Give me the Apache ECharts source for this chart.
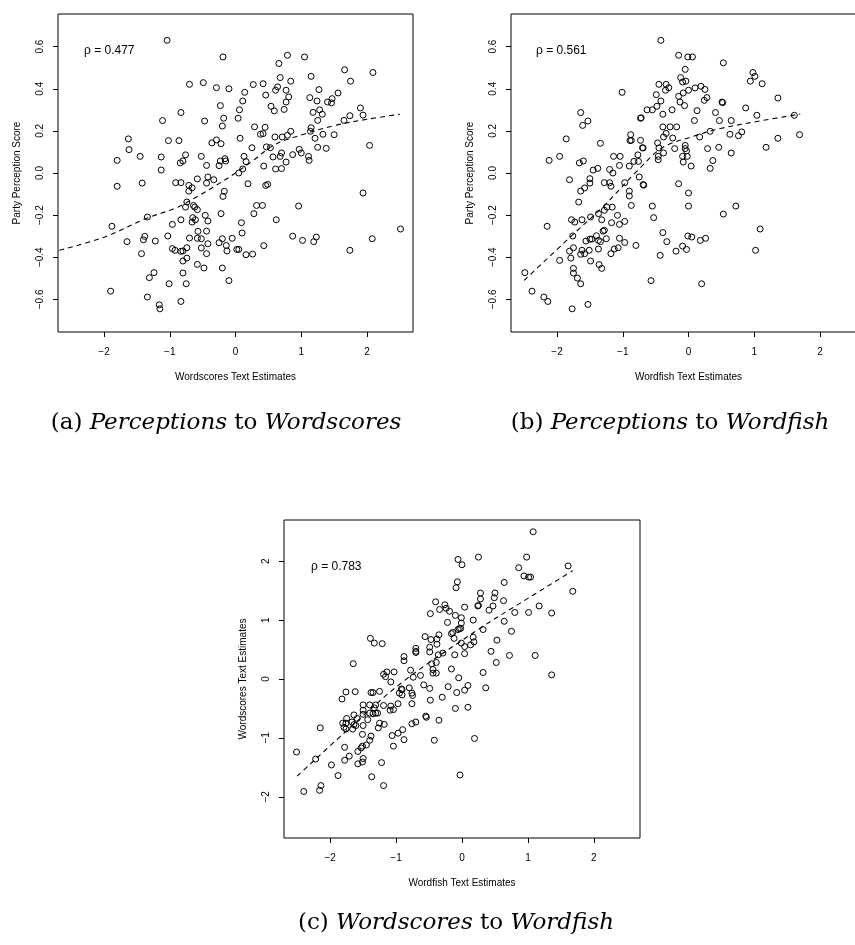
<!DOCTYPE html>
<html>
<head>
<meta charset="utf-8">
<script src="https://cdn.jsdelivr.net/npm/echarts@6/dist/echarts.min.js"></script>
<style>
  html, body { margin: 0; padding: 0; background: #fff; }
  #chart { width: 855px; height: 945px; }
</style>
</head>
<body>
<div id="chart"></div>
<script>
// Party perception score vs. Wordscores text estimate, one [x, y] per party
const perceptionVsWordscores = [
  [-1.04,0.63],[-0.19,0.551],[0.79,0.559],[1.05,0.551],[0.66,0.52],[1.66,0.49],[2.09,0.477],[1.15,0.459],[0.68,0.453],[0.84,0.436],
  [1.75,0.436],[-0.70,0.421],[-0.49,0.429],[-0.29,0.405],[-0.10,0.40],[0.27,0.42],[0.42,0.424],[0.64,0.409],[0.14,0.383],[0.46,0.37],
  [0.61,0.393],[0.77,0.393],[1.27,0.396],[0.81,0.361],[1.13,0.358],[1.24,0.342],[1.40,0.337],[1.47,0.353],[1.56,0.38],[1.46,0.333],
  [0.77,0.337],[0.11,0.342],[0.06,0.30],[-0.23,0.32],[-0.83,0.287],[0.54,0.317],[0.59,0.295],[0.74,0.302],[1.18,0.288],[1.28,0.30],
  [1.32,0.279],[1.90,0.309],[1.94,0.275],[1.74,0.272],[1.65,0.25],[-1.11,0.249],[-0.47,0.247],[-0.18,0.26],[0.04,0.26],[1.25,0.25],
  [0.29,0.219],[0.45,0.217],[0.38,0.184],[0.42,0.187],[0.84,0.198],[1.15,0.215],[1.14,0.198],[1.21,0.165],[1.33,0.184],[1.50,0.182],
  [0.79,0.179],[0.60,0.171],[0.71,0.171],[-0.20,0.223],[-1.63,0.162],[-1.02,0.154],[-0.86,0.154],[-0.29,0.157],[-0.22,0.139],[-0.36,0.143],
  [0.07,0.165],[-1.62,0.111],[-1.45,0.079],[-1.80,0.06],[-1.13,0.076],[-0.76,0.086],[-0.80,0.057],[-0.84,0.048],[-0.52,0.079],[-0.44,0.036],
  [-0.23,0.057],[-0.16,0.068],[-0.15,0.057],[-0.25,0.035],[-1.13,0.014],[0.25,0.12],[0.47,0.124],[0.53,0.12],[0.13,0.079],[0.16,0.054],
  [0.43,0.033],[0.57,0.076],[0.68,0.079],[0.77,0.052],[0.70,0.095],[0.87,0.087],[0.97,0.112],[1.00,0.095],[1.11,0.079],[1.12,0.06],
  [1.25,0.122],[1.38,0.117],[2.04,0.131],[0.61,0.019],[0.70,0.021],[0.11,0.019],[0.05,0.0],[-0.58,-0.028],[-0.42,-0.019],[-0.33,-0.032],
  [-1.80,-0.063],[-1.42,-0.048],[-0.91,-0.046],[-0.83,-0.046],[-0.71,-0.059],[-0.66,-0.07],[-0.71,-0.086],[-0.44,-0.048],[0.19,-0.051],[0.46,-0.059],
  [0.49,-0.054],[-0.17,-0.087],[-0.19,-0.111],[-0.74,-0.138],[-0.76,-0.162],[-0.64,-0.154],[-0.62,-0.162],[-0.58,-0.174],[0.32,-0.154],[0.41,-0.154],
  [0.96,-0.157],[1.94,-0.095],[-1.88,-0.253],[-1.34,-0.209],[-0.96,-0.244],[-0.83,-0.222],[-0.65,-0.212],[-0.61,-0.222],[-0.66,-0.233],[-0.46,-0.201],
  [-0.42,-0.228],[-0.22,-0.193],[0.28,-0.193],[0.09,-0.236],[0.62,-0.222],[-1.65,-0.326],[-1.40,-0.317],[-1.38,-0.301],[-1.22,-0.323],[-1.03,-0.299],
  [-0.70,-0.309],[-0.58,-0.31],[-0.52,-0.312],[-0.57,-0.277],[-0.44,-0.276],[-0.42,-0.336],[-0.52,-0.356],[-0.25,-0.331],[-0.20,-0.312],[-0.14,-0.344],
  [-0.05,-0.31],[-0.13,-0.37],[0.02,-0.363],[0.05,-0.363],[0.10,-0.285],[0.16,-0.388],[0.26,-0.385],[0.43,-0.345],[0.87,-0.30],[1.02,-0.32],
  [1.19,-0.326],[1.23,-0.304],[1.74,-0.367],[2.08,-0.312],[2.51,-0.266],[-0.96,-0.359],[-0.92,-0.367],[-0.83,-0.372],[-0.80,-0.37],[-0.74,-0.355],
  [-1.43,-0.383],[-0.80,-0.418],[-0.74,-0.404],[-0.58,-0.434],[-0.44,-0.383],[-0.48,-0.451],[-0.20,-0.451],[-1.24,-0.473],[-1.31,-0.497],[-0.80,-0.475],
  [-1.01,-0.526],[-0.75,-0.526],[-0.10,-0.511],[-1.90,-0.561],[-1.34,-0.589],[-0.83,-0.61],[-1.16,-0.626],[-1.15,-0.645]
];

// Party perception score vs. Wordfish text estimate
const perceptionVsWordfish = [
  [-0.42,0.63],[-0.15,0.559],[-0.01,0.551],[0.06,0.551],[0.53,0.523],[-0.05,0.492],[0.98,0.477],[1.01,0.459],[0.94,0.436],[1.12,0.424],
  [-0.12,0.453],[-0.09,0.432],[-0.04,0.436],[-0.45,0.421],[-0.34,0.421],[-0.30,0.405],[-0.35,0.393],[-1.01,0.383],[-0.49,0.372],[0.0,0.393],
  [0.10,0.404],[0.19,0.412],[0.25,0.397],[-0.15,0.364],[-0.08,0.38],[0.28,0.358],[0.24,0.345],[0.51,0.337],[0.52,0.334],[1.36,0.356],
  [-0.13,0.337],[-0.06,0.32],[-0.42,0.342],[-0.48,0.317],[-0.55,0.30],[-0.63,0.30],[-0.25,0.30],[0.13,0.296],[0.41,0.287],[0.87,0.309],
  [1.04,0.274],[1.61,0.274],[-1.64,0.287],[-1.61,0.226],[-1.53,0.247],[-0.73,0.26],[-0.72,0.262],[-0.39,0.279],[0.09,0.249],[0.47,0.249],
  [0.65,0.249],[-0.39,0.219],[-0.28,0.219],[-0.18,0.219],[-0.38,0.171],[-0.34,0.188],[-0.24,0.166],[0.17,0.171],[0.33,0.198],[0.63,0.184],
  [0.76,0.177],[0.81,0.195],[1.69,0.182],[1.36,0.165],[-1.86,0.162],[-0.88,0.182],[-0.89,0.154],[-0.87,0.155],[-0.73,0.155],[-1.34,0.141],
  [-0.47,0.143],[-0.05,0.131],[-0.69,0.119],[-0.70,0.12],[-0.45,0.119],[-0.21,0.116],[-0.05,0.116],[-0.03,0.105],[0.29,0.116],[0.46,0.122],
  [1.18,0.122],[-1.96,0.079],[-2.12,0.06],[-1.60,0.057],[-1.66,0.048],[-1.45,0.014],[-1.38,0.022],[-1.14,0.079],[-1.04,0.079],[-1.05,0.036],
  [-1.20,0.017],[-1.15,0.0],[-0.90,0.033],[-0.83,0.055],[-0.77,0.086],[-0.76,0.055],[-0.75,-0.019],[-0.46,0.079],[-0.46,0.063],[-0.38,0.095],
  [-0.09,0.079],[-0.08,0.052],[-0.02,0.079],[0.04,0.033],[0.37,0.059],[0.33,0.022],[0.65,0.095],[-1.81,-0.032],[-1.50,-0.027],
  [-1.64,-0.086],[-1.58,-0.071],[-1.50,-0.048],[-1.28,-0.046],[-1.20,-0.046],[-1.18,-0.063],[-0.97,-0.046],[-0.90,-0.086],[-0.90,-0.109],[-0.69,-0.055],
  [-0.68,-0.058],[-0.15,-0.051],[0.0,-0.095],[-1.67,-0.138],[-0.87,-0.154],[-0.55,-0.157],[0.0,-0.157],[0.72,-0.157],[0.53,-0.195],[-0.53,-0.212],
  [-1.16,-0.162],[-1.24,-0.162],[-1.28,-0.177],[-1.37,-0.193],[-1.49,-0.209],[-1.32,-0.222],[-1.78,-0.222],[-1.73,-0.233],[-1.62,-0.222],[-1.17,-0.236],
  [-1.08,-0.201],[-1.05,-0.244],[-0.97,-0.23],[-2.15,-0.253],[-1.76,-0.299],[-1.56,-0.323],[-1.50,-0.314],[-1.47,-0.314],[-1.40,-0.298],[-1.37,-0.32],
  [-1.34,-0.326],[-1.30,-0.276],[-1.28,-0.272],[-1.25,-0.312],[-1.05,-0.31],[-0.97,-0.33],[-0.39,-0.283],[-0.33,-0.326],[-0.01,-0.299],[0.05,-0.304],
  [0.18,-0.32],[0.26,-0.31],[1.09,-0.266],[-1.81,-0.371],[-1.75,-0.355],[-1.62,-0.367],[-1.64,-0.386],[-1.58,-0.383],[-1.51,-0.367],[-1.37,-0.361],
  [-1.18,-0.383],[-1.13,-0.361],[-1.07,-0.355],[-0.80,-0.344],[-0.19,-0.371],[-0.09,-0.347],[-0.03,-0.363],[1.02,-0.367],[-0.43,-0.391],[-1.96,-0.415],
  [-1.79,-0.404],[-1.49,-0.418],[-1.36,-0.435],[-1.32,-0.453],[-1.75,-0.453],[-1.75,-0.475],[-1.69,-0.499],[-1.64,-0.526],[-2.49,-0.473],[-2.38,-0.561],
  [-2.20,-0.589],[-2.14,-0.61],[-1.77,-0.645],[-1.53,-0.624],[-0.57,-0.511],[0.20,-0.526]
];

// Wordscores text estimate vs. Wordfish text estimate
const wordscoresVsWordfish = [
  [1.08,2.50],[0.25,2.07],[0.98,2.07],[-0.06,2.03],[0.0,1.94],[1.61,1.92],[0.86,1.89],[0.94,1.75],[1.01,1.73],[1.04,1.73],
  [-0.07,1.65],[0.64,1.64],[-0.09,1.55],[1.68,1.49],[0.28,1.46],[0.50,1.46],[0.49,1.38],[0.28,1.36],[0.63,1.33],[-0.40,1.31],
  [-0.26,1.26],[-0.24,1.20],[-0.34,1.18],[-0.19,1.15],[0.04,1.22],[0.24,1.24],[0.25,1.25],[0.47,1.24],[0.41,1.17],[1.17,1.24],
  [0.80,1.13],[1.01,1.13],[1.36,1.12],[-0.48,1.11],[-0.10,1.08],[-0.01,1.04],[0.17,1.00],[0.64,0.98],[-0.22,0.96],[-0.01,0.95],
  [-0.02,0.86],[-0.04,0.855],[-0.06,0.84],[-0.14,0.79],[-0.16,0.77],[0.32,0.84],[0.75,0.81],[-0.35,0.75],[-0.56,0.72],[-0.47,0.67],
  [-0.38,0.68],[-0.12,0.69],[0.17,0.71],[0.53,0.66],[-1.39,0.69],[-1.33,0.61],[-1.21,0.60],[-0.38,0.59],[-0.01,0.61],[0.18,0.63],
  [0.13,0.58],[0.04,0.55],[-0.70,0.52],[-0.70,0.47],[-0.70,0.45],[-0.49,0.54],[-0.49,0.46],[-0.29,0.44],[-0.36,0.41],[-0.11,0.41],
  [0.04,0.43],[0.44,0.47],[0.72,0.40],[1.11,0.40],[-0.88,0.38],[-0.88,0.31],[0.52,0.28],[-0.46,0.26],[-0.39,0.28],[-0.44,0.16],
  [-0.44,0.10],[-0.39,0.10],[-0.16,0.17],[0.32,0.11],[-1.65,0.26],[-0.78,0.15],[-0.74,0.03],[-0.63,0.06],[-0.05,0.02],[1.36,0.07],
  [-1.19,0.08],[-1.14,0.12],[-1.16,0.04],[-1.03,0.12],[-1.08,-0.05],[-0.58,-0.10],[-0.21,-0.13],[0.09,-0.11],[-0.92,-0.17],[-0.80,-0.15],
  [-0.49,-0.16],[0.36,-0.15],[-1.82,-0.34],[-1.76,-0.22],[-1.62,-0.215],[-1.38,-0.23],[-1.35,-0.23],[-1.25,-0.21],[-0.95,-0.24],[-0.91,-0.18],
  [-0.91,-0.27],[-0.76,-0.24],[-0.75,-0.28],[-0.08,-0.23],[0.04,-0.19],[-0.48,-0.36],[-0.30,-0.31],[-0.76,-0.42],[-0.97,-0.42],[-1.19,-0.45],
  [-1.08,-0.46],[-1.04,-0.52],[-1.09,-0.53],[-1.31,-0.44],[-1.40,-0.44],[-1.50,-0.44],[-1.33,-0.49],[-1.31,-0.58],[-1.40,-0.58],[-1.50,-0.53],
  [-1.50,-0.60],[-0.10,-0.50],[0.09,-0.48],[-1.64,-0.61],[-1.59,-0.67],[-1.75,-0.67],[-1.81,-0.75],[-1.76,-0.75],[-1.67,-0.73],[-1.64,-0.775],
  [-1.79,-0.82],[-1.76,-0.85],[-1.66,-0.85],[-1.61,-0.79],[-1.50,-0.79],[-1.43,-0.69],[-1.35,-0.59],[-1.28,-0.58],[-1.27,-0.83],[-1.25,-0.75],
  [-1.18,-0.77],[-2.15,-0.83],[-0.76,-0.76],[-0.70,-0.73],[-0.55,-0.63],[-0.54,-0.65],[-0.35,-0.70],[-1.51,-0.94],[-1.38,-0.97],[-1.40,-1.04],
  [-1.06,-0.96],[-0.97,-0.92],[-0.90,-0.86],[-0.88,-1.03],[-0.42,-1.04],[0.19,-1.01],[-1.04,-1.14],[-1.45,-1.12],[-1.51,-1.14],[-1.53,-1.17],
  [-1.78,-1.16],[-2.51,-1.24],[-1.58,-1.23],[-2.22,-1.36],[-1.71,-1.31],[-1.78,-1.38],[-1.50,-1.35],[-1.51,-1.41],[-1.58,-1.44],[-1.22,-1.42],
  [-1.98,-1.46],[-1.88,-1.64],[-1.37,-1.66],[-1.19,-1.81],[-2.14,-1.81],[-2.16,-1.89],[-2.40,-1.91],[-0.03,-1.63]
];

// Smoothed trend curves (dashed)
const trendA = [[-2.68,-0.367],[-2.0,-0.305],[-1.35,-0.215],[-0.9,-0.165],[-0.6,-0.115],[-0.3,-0.06],[0,0.0],[0.25,0.055],[0.6,0.135],[1.0,0.18],[1.5,0.225],[2.0,0.255],[2.5,0.279]];
const trendB = [[-2.5,-0.51],[-1.75,-0.29],[-1.3,-0.16],[-0.78,0.01],[-0.4,0.12],[0.03,0.17],[0.47,0.21],[1.14,0.25],[1.7,0.28]];
const trendC = [[-2.5,-1.65],[-1.8,-0.93],[-0.9,-0.05],[0.3,0.88],[0.9,1.3],[1.68,1.84]];

// Correlations printed in each panel
const rhoValues = ['0.477', '0.561', '0.783'];

// Axis ticks
const estimateTicks = [-2, -1, 0, 1, 2];
const perceptionTicks = [-0.6, -0.4, -0.2, 0, 0.2, 0.4, 0.6];

// Axis titles and panel captions
const xTitles = ['Wordscores Text Estimates', 'Wordfish Text Estimates', 'Wordfish Text Estimates'];
const yTitles = ['Party Perception Score', 'Party Perception Score', 'Wordscores Text Estimates'];
const captions = [
  ['(a)', 'Perceptions', 'Wordscores'],
  ['(b)', 'Perceptions', 'Wordfish'],
  ['(c)', 'Wordscores', 'Wordfish']
];

const SANS = 'Liberation Sans, Arial, Helvetica, sans-serif';
const SERIF = 'DejaVu Serif, serif';
const minus = s => s.replace('-', '\u2212');

const grids = [
  { left: 58, top: 14, width: 355, height: 318 },
  { left: 511, top: 14, width: 355, height: 318 },
  { left: 284, top: 520, width: 356, height: 318 }
];

function xAxisFor(i) {
  return {
    type: 'value', gridIndex: i, min: -2.7, max: 2.7,
    axisLine: { show: false, onZero: false },
    splitLine: { show: false },
    axisTick: { customValues: estimateTicks, length: 5, lineStyle: { color: '#000', width: 1 } },
    axisLabel: {
      customValues: estimateTicks, margin: 15, color: '#000', fontSize: 10, fontFamily: SANS,
      formatter: v => minus(String(v))
    },
    name: xTitles[i], nameLocation: 'middle', nameGap: 40,
    nameTextStyle: { color: '#000', fontSize: 10, fontFamily: SANS }
  };
}

function yAxisFor(i) {
  const isScore = i < 2;
  const ticks = isScore ? perceptionTicks : estimateTicks;
  return {
    type: 'value', gridIndex: i,
    min: isScore ? -0.755 : -2.7, max: isScore ? 0.755 : 2.7,
    axisLine: { show: false, onZero: false },
    splitLine: { show: false },
    axisTick: { customValues: ticks, length: 5, lineStyle: { color: '#000', width: 1 } },
    axisLabel: {
      customValues: ticks, rotate: 90, margin: 13, color: '#000', fontSize: 10, fontFamily: SANS,
      formatter: v => isScore ? minus(Number(v).toFixed(1)) : minus(String(v))
    },
    name: yTitles[i], nameLocation: 'middle', nameGap: 36, nameRotate: 90,
    nameTextStyle: { color: '#000', fontSize: 10, fontFamily: SANS }
  };
}

const panels = [perceptionVsWordscores, perceptionVsWordfish, wordscoresVsWordfish];
const trends = [trendA, trendB, trendC];

const series = [];
panels.forEach((pts, i) => {
  series.push({
    type: 'scatter', xAxisIndex: i, yAxisIndex: i, data: pts,
    symbol: 'circle', symbolSize: 6,
    itemStyle: { color: 'rgba(0,0,0,0)', borderColor: '#000', borderWidth: 1, opacity: 1 },
    silent: true, z: 3
  });
  series.push({
    type: 'line', xAxisIndex: i, yAxisIndex: i, data: trends[i],
    showSymbol: false, smooth: 0.35, clip: true, silent: true,
    lineStyle: { color: '#000', width: 1.1, type: [5, 4] }, z: 2
  });
});

const rhoPos = [{ left: 84, top: 45 }, { left: 536, top: 45 }, { left: 311, top: 561 }];
const captionPos = [{ left: 226, top: 412 }, { left: 670, top: 412 }, { left: 456, top: 912 }];

const titles = [];
rhoValues.forEach((r, i) => {
  titles.push(Object.assign({
    text: '\u03c1 = ' + r, padding: 0,
    textStyle: { fontSize: 12, fontWeight: 'normal', color: '#000', fontFamily: SANS }
  }, rhoPos[i]));
});
captions.forEach((c, i) => {
  titles.push(Object.assign({
    text: c[0] + ' {i|' + c[1] + '} to {i|' + c[2] + '}', padding: 0, textAlign: 'center',
    textStyle: {
      fontSize: 23, fontWeight: 'normal', color: '#000', fontFamily: SERIF,
      rich: { i: { fontStyle: 'italic', fontSize: 23, fontFamily: SERIF, color: '#000' } }
    }
  }, captionPos[i]));
});

const chart = echarts.init(document.getElementById('chart'), null, { renderer: 'canvas' });
chart.setOption({
  animation: false,
  backgroundColor: '#fff',
  title: titles,
  grid: grids.map(g => Object.assign({
    show: true, borderColor: '#000', borderWidth: 1, backgroundColor: 'transparent',
    containLabel: false, outerBoundsMode: 'none'
  }, g)),
  xAxis: [0, 1, 2].map(xAxisFor),
  yAxis: [0, 1, 2].map(yAxisFor),
  series: series
});
</script>
</body>
</html>
